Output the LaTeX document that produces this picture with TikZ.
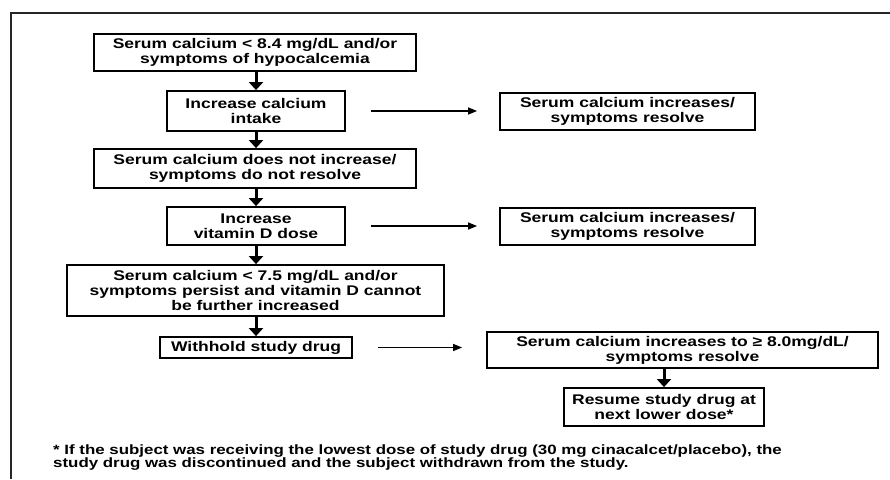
\documentclass[tikz,border=0pt]{standalone}
\usepackage{fontspec}
\newfontfamily\wideSans[FakeStretch=1.25]{Liberation Sans}
\usetikzlibrary{arrows.meta}
\tikzset{
  fbox/.style={draw=black, line width=1.8pt, inner sep=0pt, align=center,
    font={\wideSans\bfseries\fontsize{14pt}{15pt}\selectfont}},
  varrow/.style={line width=3pt, -{Triangle[length=8pt,width=14pt]}},
  harrow/.style={line width=1.4pt, -{Triangle[length=9pt,width=7pt]}},
  frameline/.style={line width=1.8pt, black!85},
  notetext/.style={inner sep=0pt, align=left,
    font={\wideSans\bfseries\fontsize{13.5pt}{13pt}\selectfont}}
}
\begin{document}
\begin{tikzpicture}[x=1pt,y=-1pt]
\useasboundingbox (0,0) rectangle (890,479);
% open frame
\draw[frameline] (11,479) -- (11,13) -- (890,13);

% left column
\node[fbox, minimum width=322pt, minimum height=37pt] (b1) at (255,52.5)
  {Serum calcium < 8.4 mg/dL and/or\\symptoms of hypocalcemia};
\node[fbox, minimum width=178pt, minimum height=40pt] (b2) at (256,111)
  {Increase calcium\\intake};
\node[fbox, minimum width=322pt, minimum height=39pt] (b3) at (255,168.5)
  {Serum calcium does not increase/\\symptoms do not resolve};
\node[fbox, minimum width=178pt, minimum height=38pt] (b4) at (256,226)
  {Increase\\vitamin D dose};
\node[fbox, minimum width=377pt, minimum height=51pt] (b5) at (255.5,290.5)
  {Serum calcium < 7.5 mg/dL and/or\\symptoms persist and vitamin D cannot\\be further increased};
\node[fbox, minimum width=192pt, minimum height=21pt] (b6) at (256,347.5)
  {Withhold study drug};

% right column
\node[fbox, minimum width=255pt, minimum height=37pt] (r1) at (627.5,111.5)
  {Serum calcium increases/\\symptoms resolve};
\node[fbox, minimum width=255pt, minimum height=37pt] (r2) at (627.5,226.5)
  {Serum calcium increases/\\symptoms resolve};
\node[fbox, minimum width=391pt, minimum height=36pt] (r3) at (682.5,350)
  {Serum calcium increases to ≥ 8.0mg/dL/\\symptoms resolve};
\node[fbox, minimum width=200pt, minimum height=38pt] (r4) at (664,407)
  {Resume study drug at\\next lower dose*};

% footnote
\node[notetext, anchor=west] (fn) at (53,457.5)
  {* If the subject was receiving the lowest dose of study drug (30 mg cinacalcet/placebo), the\\
   study drug was discontinued and the subject withdrawn from the study.};

% vertical arrows
\draw[varrow] (b2.north |- b1.south) -- (b2.north);
\draw[varrow] (b2.south) -- (b2.south |- b3.north);
\draw[varrow] (b4.north |- b3.south) -- (b4.north);
\draw[varrow] (b4.south) -- (b4.south |- b5.north);
\draw[varrow] (b6.north |- b5.south) -- (b6.north);
\draw[varrow] (r4.north |- r3.south) -- (r4.north);

% horizontal arrows
\draw[harrow, shorten <=25pt, shorten >=22pt] (b2.east) -- (b2.east -| r1.west);
\draw[harrow, shorten <=25pt, shorten >=22pt] (b4.east) -- (b4.east -| r2.west);
\draw[harrow, shorten <=25pt, shorten >=24pt] (b6.east) -- (b6.east -| r3.west);
\end{tikzpicture}
\end{document}
